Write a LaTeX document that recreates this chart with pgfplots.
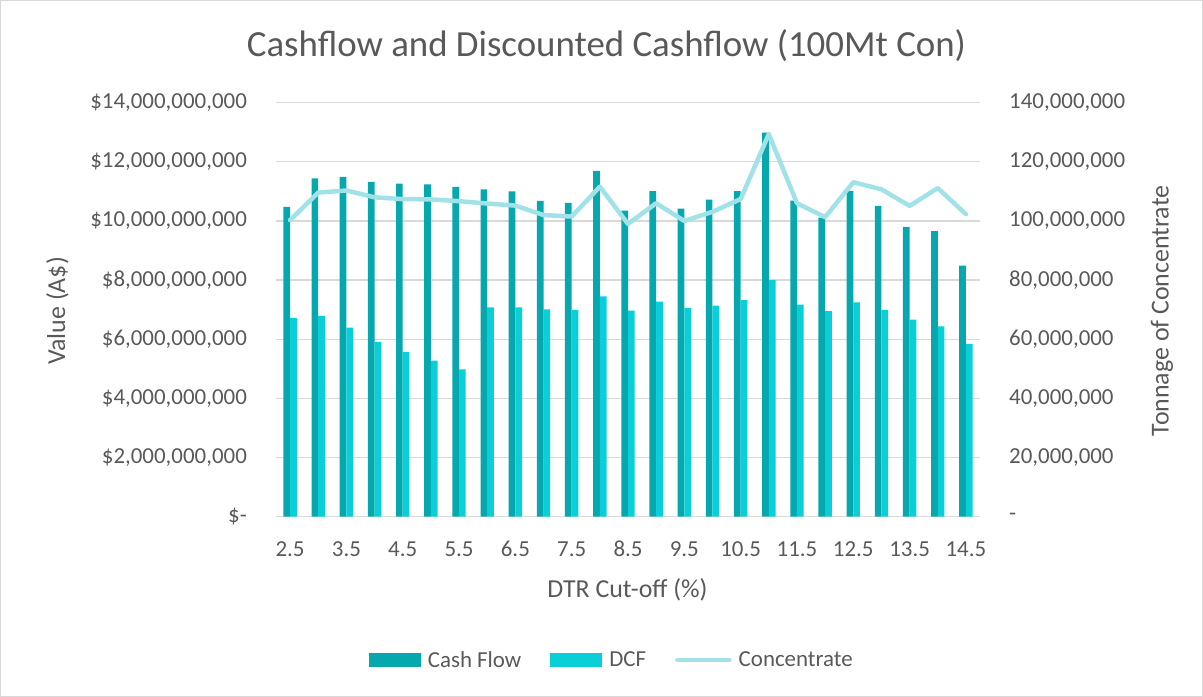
\documentclass[border=0pt]{standalone}
\usepackage{fontspec}
\setmainfont{Carlito}
\usepackage{pgfplots}
\usepackage{pgfplotstable}
\pgfplotsset{compat=1.18}
\definecolor{cf}{HTML}{06A8AE}
\definecolor{dcf}{HTML}{0ACFD9}
\definecolor{conc}{HTML}{A1E2E8}
\definecolor{txt}{HTML}{595959}
\definecolor{gridc}{HTML}{D9D9D9}
\pgfplotstableread{
idx cf dcf conc
0 10480000000 6720000000 100300000
1 11440000000 6790000000 109600000
2 11490000000 6390000000 110300000
3 11320000000 5910000000 108000000
4 11260000000 5570000000 107400000
5 11240000000 5280000000 107300000
6 11150000000 4980000000 106700000
7 11070000000 7080000000 105900000
8 11000000000 7080000000 105200000
9 10680000000 7010000000 102000000
10 10610000000 6990000000 101500000
11 11690000000 7450000000 111600000
12 10350000000 6970000000 99000000
13 11010000000 7270000000 106000000
14 10420000000 7050000000 100000000
15 10720000000 7140000000 103100000
16 11010000000 7320000000 107400000
17 12990000000 8000000000 129400000
18 10690000000 7170000000 106000000
19 10110000000 6950000000 101300000
20 11010000000 7250000000 113100000
21 10510000000 6990000000 110700000
22 9800000000 6660000000 105100000
23 9660000000 6440000000 111100000
24 8490000000 5840000000 102300000
}\data
\newcommand{\tfont}{\fontsize{23}{28}\selectfont}
\begin{document}
\begin{tikzpicture}[x=1bp,y=1bp]
\draw[gridc, line width=1bp] (0.5,0.5) rectangle (1202.5,696.5);
\begin{axis}[
  at={(276bp,180.3bp)}, anchor=south west,
  scale only axis, width=704bp, height=414bp,
  xmin=-0.5, xmax=24.5, ymin=0, ymax=14000000000,
  ybar=0pt, bar width=6.7bp,
  axis x line*=bottom, axis y line*=left,
  x axis line style={-, gridc, line width=1.3bp},
  y axis line style={draw=none},
  ymajorgrids, grid style={gridc, line width=1.3bp},
  major tick length=0pt,
  xtick={0,2,...,24},
  xticklabels={2.5,3.5,4.5,5.5,6.5,7.5,8.5,9.5,10.5,11.5,12.5,13.5,14.5},
  ytick={0,2000000000,4000000000,6000000000,8000000000,10000000000,12000000000,14000000000},
  scaled y ticks=false,
  yticklabels={\$-\hspace{10bp},{\$2,000,000,000},{\$4,000,000,000},{\$6,000,000,000},{\$8,000,000,000},{\$10,000,000,000},{\$12,000,000,000},{\$14,000,000,000}},
  yticklabel style={anchor=east, inner sep=0pt, xshift=-29bp, font=\tfont, text=txt},
  xticklabel style={anchor=base, inner sep=0pt, yshift=-40bp, font=\tfont, text=txt},
  title={Cashflow and Discounted Cashflow (100Mt Con)},
  title style={at={(axis description cs:0.4695,1.1225)}, anchor=center, font=\fontsize{37}{44}\selectfont, text=txt},
  xlabel={DTR Cut-off (\%)},
  xlabel style={at={(axis description cs:0.4993,-0.177)}, anchor=center, font=\fontsize{26}{31}\selectfont, text=txt},
  ylabel={Value (A\$)},
  ylabel style={at={(axis description cs:-0.3104,0.497)}, anchor=center, rotate=0, font=\fontsize{26}{31}\selectfont, text=txt},
  legend columns=3,
  legend style={at={(axis description cs:0.477,-0.3457)}, anchor=center, draw=none, fill=none,
    font=\tfont, text=txt,
    /tikz/every odd column/.append style={column sep=5bp},
    /tikz/every even column/.append style={column sep=27bp}},
  legend cell align=left,
]
\addplot[fill=cf, draw=none, legend image code/.code={\fill[cf] (0bp,-7bp) rectangle (52bp,7bp);}] table[x=idx, y=cf] {\data};
\addlegendentry{Cash Flow}
\addplot[fill=dcf, draw=none, legend image code/.code={\fill[dcf] (0bp,-7bp) rectangle (52bp,7bp);}] table[x=idx, y=dcf] {\data};
\addlegendentry{DCF}
\addlegendimage{legend image code/.code={\draw[conc, line width=4.5bp, line cap=round] (2bp,0bp) -- (54bp,0bp);}}
\addlegendentry{Concentrate}
\end{axis}
\begin{axis}[
  at={(276bp,180.3bp)}, anchor=south west,
  scale only axis, width=704bp, height=414bp,
  xmin=-0.5, xmax=24.5, ymin=0, ymax=140000000,
  axis y line*=right, axis x line=none,
  y axis line style={draw=none},
  major tick length=0pt,
  ytick={0,20000000,40000000,60000000,80000000,100000000,120000000,140000000},
  scaled y ticks=false,
  yticklabels={-,{20,000,000},{40,000,000},{60,000,000},{80,000,000},{100,000,000},{120,000,000},{140,000,000}},
  yticklabel style={anchor=west, inner sep=0pt, xshift=29bp, font=\tfont, text=txt},
  ylabel={Tonnage of Concentrate},
  ylabel style={at={(axis description cs:1.2585,0.497)}, anchor=center, rotate=0, font=\fontsize{26}{31}\selectfont, text=txt},
]
\addplot[conc, line width=4.5bp, line join=round, line cap=round, mark=none] table[x=idx, y=conc] {\data};
\end{axis}
\end{tikzpicture}
\end{document}
